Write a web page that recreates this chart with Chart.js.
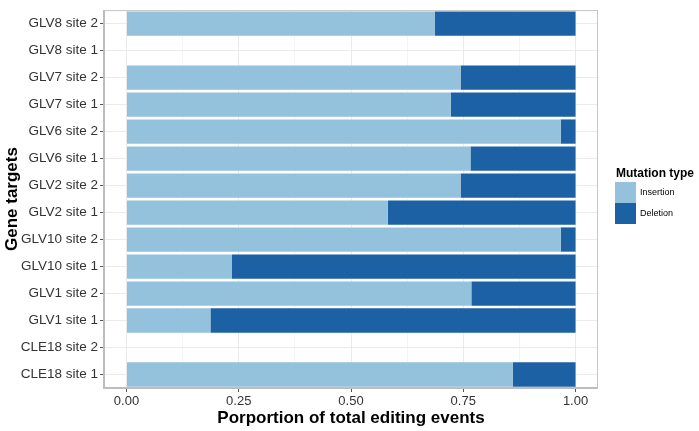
<!DOCTYPE html>
<html>
<head>
<meta charset="utf-8">
<script src="https://cdn.jsdelivr.net/npm/chart.js@4/dist/chart.umd.min.js"></script>
<style>
html,body{margin:0;padding:0;background:#fff;}
#wrap{width:699px;height:431px;position:relative;}
</style>
</head>
<body>
<div id="wrap"><canvas id="c" width="699" height="431"></canvas></div>
<script>
const categories = ["GLV8 site 2","GLV8 site 1","GLV7 site 2","GLV7 site 1","GLV6 site 2","GLV6 site 1","GLV2 site 2","GLV2 site 1","GLV10 site 2","GLV10 site 1","GLV1 site 2","GLV1 site 1","CLE18 site 2","CLE18 site 1"];
const insertion = [0.687, null, 0.744, 0.722, 0.967, 0.766, 0.744, 0.582, 0.967, 0.235, 0.768, 0.187, null, 0.86];
const deletion  = [0.313, null, 0.256, 0.278, 0.033, 0.234, 0.256, 0.418, 0.033, 0.765, 0.232, 0.813, null, 0.14];
const xTicks = [0, 0.25, 0.5, 0.75, 1];
const xMinorTicks = [0.125, 0.375, 0.625, 0.875];
const seriesNames = ["Insertion", "Deletion"];
const legendTitle = "Mutation type";
const xTitle = "Porportion of total editing events";
const yTitle = "Gene targets";

const colors = ["#94c1dc", "#1d61a5"];
const FONT = "'Liberation Sans', Arial, Helvetica, sans-serif";

const panelPlugin = {
  id: 'panel',
  afterDatasetsDraw(chart) {
    const {ctx, chartArea: a} = chart;
    ctx.save();
    ctx.strokeStyle = '#c4c4c4';
    ctx.lineWidth = 1;
    ctx.strokeRect(a.left + 0.5, a.top + 0.5, a.right - a.left - 1, a.bottom - a.top - 1);
    ctx.lineWidth = 2;
    ctx.strokeStyle = '#bdbdbd';
    ctx.beginPath();
    ctx.moveTo(a.left, a.top);
    ctx.lineTo(a.left, a.bottom);
    ctx.lineTo(a.right, a.bottom);
    ctx.stroke();
    ctx.restore();
  },
  afterDraw(chart) {
    const {ctx} = chart;
    ctx.save();
    const x0 = 615, y0 = 182, w = 21, h = 21;
    ctx.fillStyle = '#000';
    ctx.font = "bold 12px " + FONT;
    ctx.textAlign = 'left';
    ctx.textBaseline = 'alphabetic';
    ctx.fillText(legendTitle, 616, 177);
    ctx.font = "9px " + FONT;
    ctx.textBaseline = 'middle';
    chart.data.datasets.forEach((ds, i) => {
      ctx.fillStyle = ds.backgroundColor;
      ctx.fillRect(x0, y0 + i * h, w, h);
      ctx.fillStyle = '#000';
      ctx.fillText(ds.label, x0 + w + 4, y0 + i * h + h / 2);
    });
    ctx.restore();
  }
};

new Chart(document.getElementById('c'), {
  type: 'bar',
  data: {
    labels: categories,
    datasets: [
      {label: seriesNames[0], data: insertion, backgroundColor: colors[0], borderWidth: 0},
      {label: seriesNames[1], data: deletion, backgroundColor: colors[1], borderWidth: 0}
    ]
  },
  plugins: [panelPlugin],
  options: {
    indexAxis: 'y',
    responsive: false,
    animation: false,
    devicePixelRatio: 1,
    layout: {padding: {top: 1, right: 101, left: 0, bottom: 0}},
    datasets: {bar: {barPercentage: 0.9, categoryPercentage: 1.0}},
    plugins: {legend: {display: false}, tooltip: {enabled: false}},
    scales: {
      x: {
        type: 'linear',
        stacked: true,
        min: -0.05,
        max: 1.05,
        afterBuildTicks(scale) {
          scale.ticks = xTicks.concat(xMinorTicks).sort((a, b) => a - b).map(v => ({value: v}));
        },
        afterFit(scale) { scale.height = 43; },
        border: {display: false},
        grid: {
          color: ctx => (ctx.tick && xMinorTicks.includes(ctx.tick.value)) ? '#f4f4f4' : '#ebebeb',
          tickColor: ctx => (ctx.tick && xMinorTicks.includes(ctx.tick.value)) ? 'rgba(0,0,0,0)' : '#555',
          tickLength: 4,
          lineWidth: 1
        },
        ticks: {
          autoSkip: false,
          maxRotation: 0,
          padding: 2,
          color: '#333',
          font: {family: FONT, size: 13},
          callback: v => xTicks.includes(v) ? v.toFixed(2) : ''
        },
        title: {
          display: true,
          text: xTitle,
          color: '#000',
          font: {family: FONT, size: 17, weight: 'bold'},
          padding: {top: 0, bottom: 2}
        }
      },
      y: {
        stacked: true,
        afterFit(scale) { scale.width = 104; },
        border: {display: false},
        grid: {
          offset: false,
          color: '#ebebeb',
          tickColor: '#555',
          tickLength: 4,
          lineWidth: 1
        },
        ticks: {
          autoSkip: false,
          padding: 2,
          color: '#333',
          font: {family: FONT, size: 13.5}
        },
        title: {
          display: true,
          text: yTitle,
          color: '#000',
          font: {family: FONT, size: 17, weight: 'bold'},
          padding: {top: 2, bottom: 0}
        }
      }
    }
  }
});
</script>
</body>
</html>
